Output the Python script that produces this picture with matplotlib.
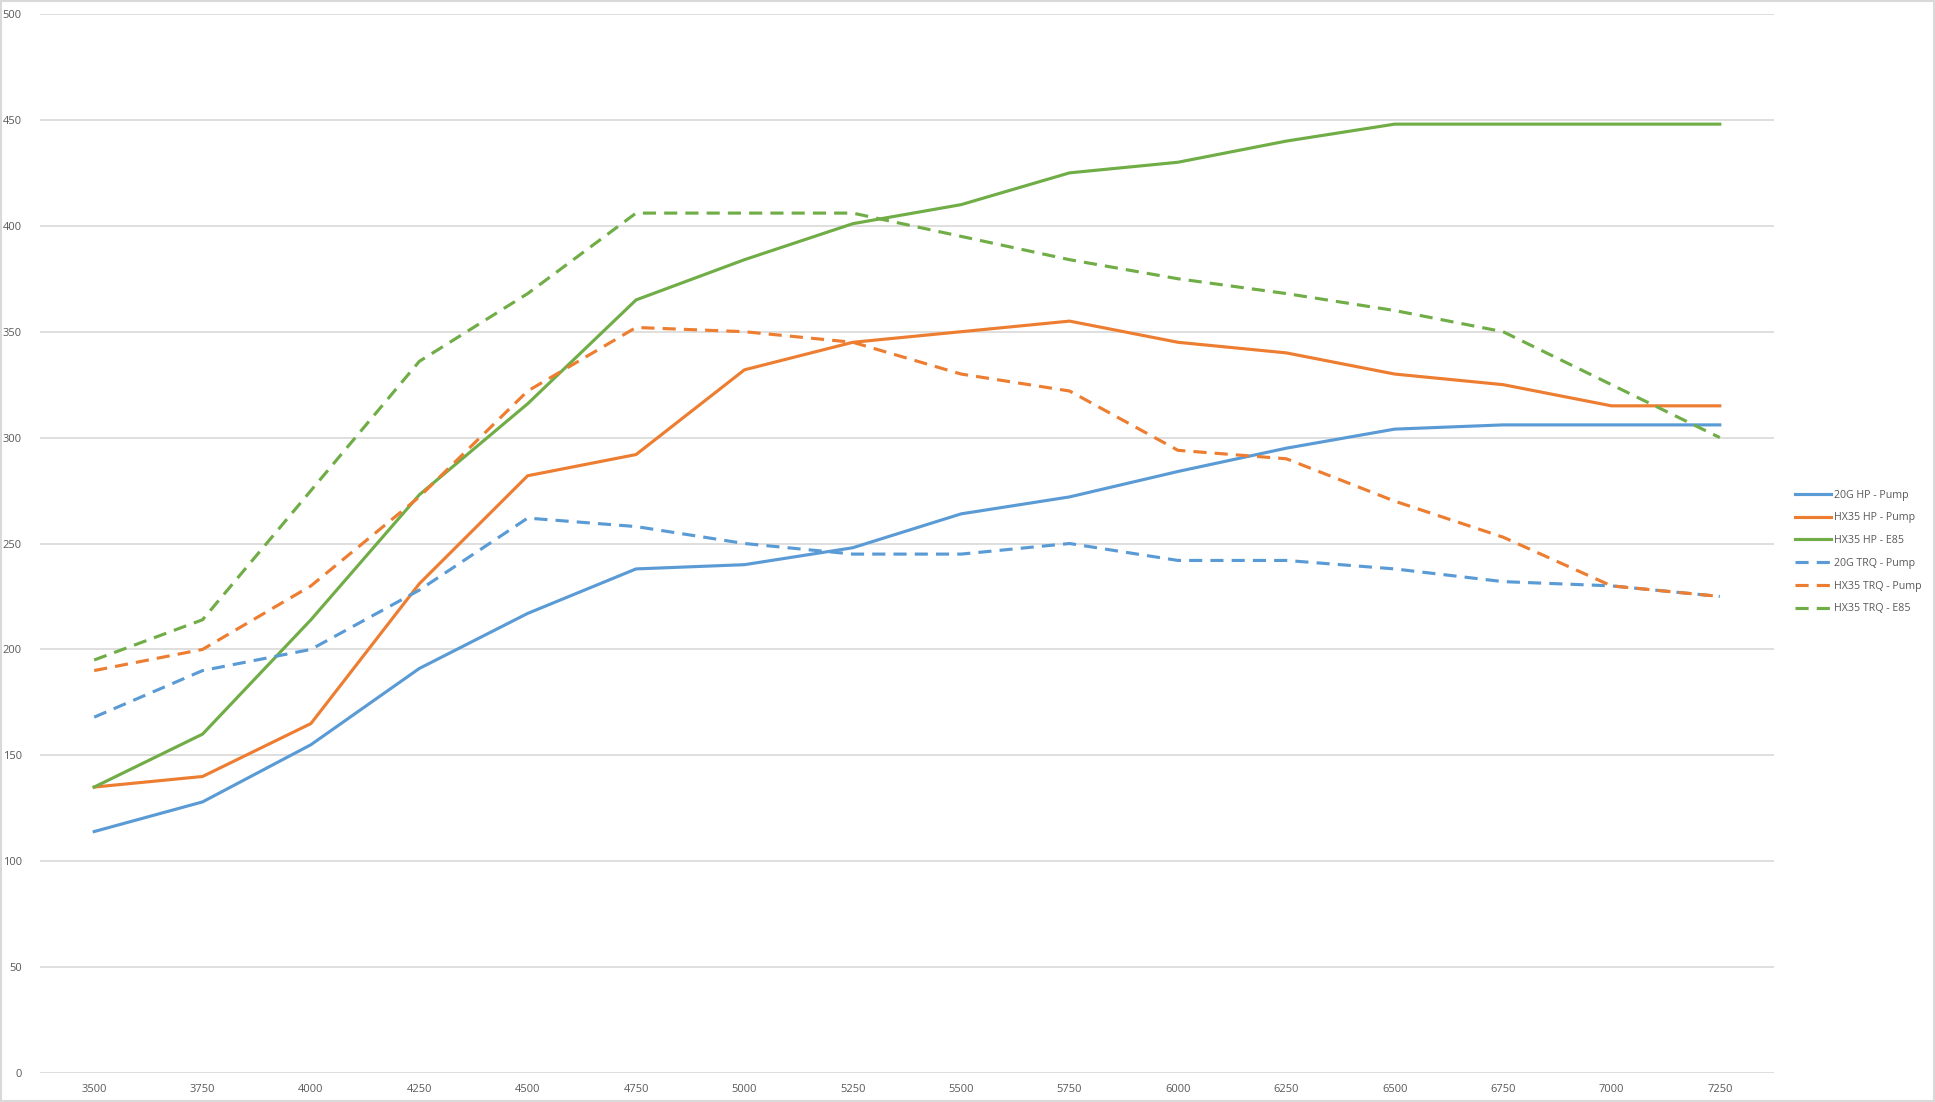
import matplotlib
matplotlib.use("Agg")
import matplotlib.pyplot as plt
from matplotlib.patches import Rectangle

plt.rcParams['font.family'] = ['Open Sans', 'DejaVu Sans']

rpm = ['3500', '3750', '4000', '4250', '4500', '4750', '5000', '5250',
       '5500', '5750', '6000', '6250', '6500', '6750', '7000', '7250']

hp_20g_pump = [114, 128, 155, 191, 217, 238, 240, 248, 264, 272, 284, 295, 304, 306, 306, 306]
hp_hx35_pump = [135, 140, 165, 231, 282, 292, 332, 345, 350, 355, 345, 340, 330, 325, 315, 315]
hp_hx35_e85 = [135, 160, 214, 273, 316, 365, 384, 401, 410, 425, 430, 440, 448, 448, 448, 448]
trq_20g_pump = [168, 190, 200, 228, 262, 258, 250, 245, 245, 250, 242, 242, 238, 232, 230, 225]
trq_hx35_pump = [190, 200, 230, 272, 322, 352, 350, 345, 330, 322, 294, 290, 270, 253, 230, 225]
trq_hx35_e85 = [195, 214, 275, 336, 368, 406, 406, 406, 395, 384, 375, 368, 360, 350, 325, 300]

blue = '#5B9BD5'
orange = '#ED7D31'
green = '#70AD47'

fig = plt.figure(figsize=(19.35, 11.02), dpi=100)
fig.patches.append(Rectangle((0.0005, 0.0005), 0.999, 0.999, transform=fig.transFigure,
                             fill=False, edgecolor='#d9d9d9', lw=1.5))

ax = fig.add_axes([40/1935, 29/1102, 1734/1935, 1059/1102])  # llx, lly, w, h

x = list(range(len(rpm)))
lw = 2.25
dash = (0, (4.2, 2.6))
ax.plot(x, hp_20g_pump, color=blue, lw=lw, label='20G HP - Pump')
ax.plot(x, hp_hx35_pump, color=orange, lw=lw, label='HX35 HP - Pump')
ax.plot(x, hp_hx35_e85, color=green, lw=lw, label='HX35 HP - E85')
ax.plot(x, trq_20g_pump, color=blue, lw=lw, ls=dash, label='20G TRQ - Pump')
ax.plot(x, trq_hx35_pump, color=orange, lw=lw, ls=dash, label='HX35 TRQ - Pump')
ax.plot(x, trq_hx35_e85, color=green, lw=lw, ls=dash, label='HX35 TRQ - E85')

ax.set_xlim(-0.5, len(rpm) - 0.5)
ax.set_ylim(0, 500)
ax.set_xticks(x)
ax.set_xticklabels(rpm)
ax.set_yticks(range(0, 501, 50))
ax.grid(axis='y', color='#d9d9d9', lw=1.2)
ax.set_axisbelow(True)
for s in ax.spines.values():
    s.set_visible(False)
ax.tick_params(length=0, labelsize=8, colors='#595959')
ax.tick_params(axis='y', pad=13)
ax.tick_params(axis='x', pad=8)

fig.legend(loc='center left', bbox_to_anchor=(1785/1935, 1 - 552/1102),
           frameon=False, fontsize=7.7, handlelength=3.4, handletextpad=0.25,
           labelspacing=1.1, labelcolor='#595959')

fig.savefig('out.png', dpi=100)
